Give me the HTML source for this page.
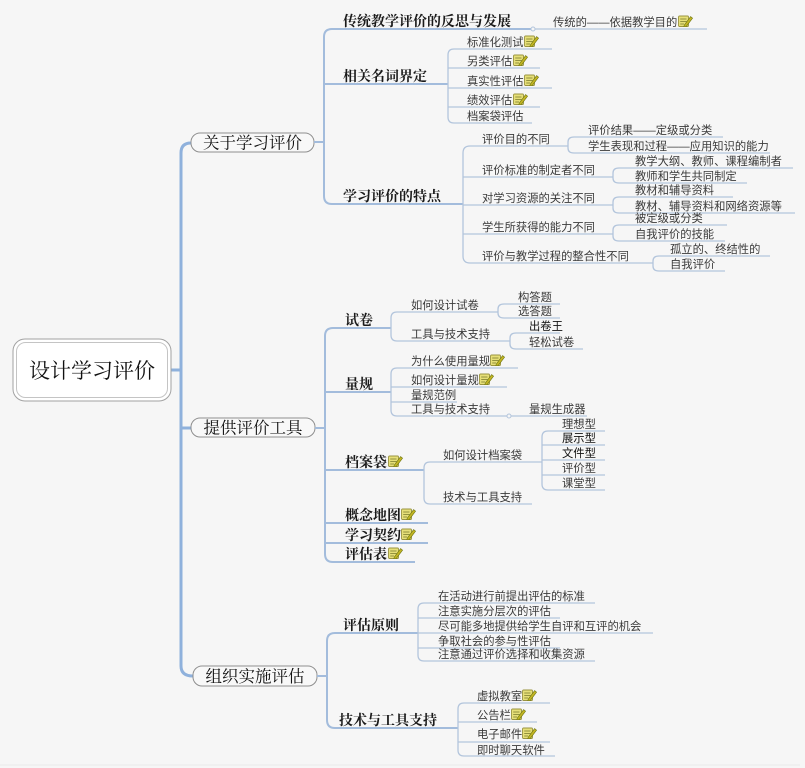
<!DOCTYPE html>
<html>
<head>
<meta charset="utf-8">
<style>
  html,body{margin:0;padding:0;background:#f6f6f6;}
  svg{display:block;}
  .c0{font-family:"Liberation Serif","Noto Serif CJK SC",serif;font-size:21px;fill:#111;}
  .c1{font-family:"Liberation Serif","Noto Serif CJK SC",serif;font-size:16.5px;fill:#111;}
  .c2{font-family:"Liberation Serif","Noto Serif CJK SC",serif;font-size:14px;font-weight:bold;fill:#1a1a1a;}
  .c3{font-family:"Liberation Sans","Noto Sans CJK SC",sans-serif;font-size:11.3px;fill:#3a3a3a;}
  .dk{fill:#111;}
  .tr{fill:none;stroke:#8fb1dc;stroke-width:3;stroke-linecap:round;}
  .gb{fill:none;stroke:#a3bcdc;stroke-width:2;}
  .lf{fill:none;stroke:#b3c5dc;stroke-width:1.3;}
</style>
</head>
<body>
<svg width="805" height="768" viewBox="0 0 805 768" xmlns="http://www.w3.org/2000/svg">
  <defs>
    <symbol id="ic" viewBox="0 0 15 12">
      <rect x="0.5" y="1" width="10" height="10.5" rx="1" fill="#e6df78" stroke="#9a9440" stroke-width="0.9"/>
      <line x1="2.2" y1="4" x2="8.5" y2="4" stroke="#8a8a38" stroke-width="0.9"/>
      <line x1="2.2" y1="6.5" x2="8.5" y2="6.5" stroke="#8a8a38" stroke-width="0.9"/>
      <line x1="2.2" y1="9" x2="6" y2="9" stroke="#8a8a38" stroke-width="0.9"/>
      <path d="M6.2 10.2 L12.6 1.6 L14.6 3.2 L8.2 11.6 L5.8 12 Z" fill="#c2b423" stroke="#6d7612" stroke-width="0.6"/>
    </symbol>
  </defs>

  <rect x="0" y="0" width="805" height="768" fill="#f6f6f6"/>
  <line x1="0" y1="765" x2="800" y2="765" stroke="#e9e9e9" stroke-width="1"/>

  <!-- trunk -->
  <path class="tr" d="M171 370 L181 370 M191 143 Q181 143 181 153 L181 666 Q181 676 193 676 M181 428 L191 428"/>

  <!-- central node -->
  <rect x="13" y="339" width="158" height="62" rx="12" fill="#ffffff" stroke="#a2a2a2" stroke-width="1"/>
  <rect x="16.5" y="342.5" width="151" height="55" rx="9" fill="#ffffff" stroke="#c4c4c4" stroke-width="1"/>
  <text class="c0" x="92" y="378" text-anchor="middle">设计学习评价</text>

  <!-- L1 nodes -->
  <rect x="191" y="133" width="123" height="19" rx="9" fill="#f8f8f8" stroke="#8f8f8f" stroke-width="1"/>
  <text class="c1" x="252.5" y="148.5" text-anchor="middle">关于学习评价</text>
  <rect x="191" y="418" width="124" height="19" rx="9" fill="#f8f8f8" stroke="#8f8f8f" stroke-width="1"/>
  <text class="c1" x="253" y="433.5" text-anchor="middle">提供评价工具</text>
  <rect x="193" y="666" width="124" height="20" rx="9" fill="#f8f8f8" stroke="#8f8f8f" stroke-width="1"/>
  <text class="c1" x="255" y="682" text-anchor="middle">组织实施评估</text>

  <!-- ===== Group 1 ===== -->
  <path class="gb" d="M314 142 L324 142 M332 29 Q324 29 324 37 L324 196 Q324 204 332 204 M332 29 L533 29 M324 84 L448 84 M332 204 L463 204"/>
  <circle cx="533" cy="29" r="2" fill="#f6f6f6" stroke="#b3c5dc" stroke-width="1"/>
  <path class="lf" d="M535 29 L707 29"/>
  <text class="c2" x="343" y="26">传统教学评价的反思与发展</text>
  <text class="c3" x="553" y="26">传统的——依据教学目的</text>
  <use href="#ic" x="678" y="15" width="15" height="12"/>

  <text class="c2" x="343" y="81">相关名词界定</text>
  <path class="lf" d="M454 49 Q448 49 448 55 L448 117 Q448 123 454 123 M454 49 L552 49 M448 68 L540 68 M448 88 L552 88 M448 107 L540 107 M454 123 L532 123"/>
  <text class="c3" x="467" y="46">标准化测试</text><use href="#ic" x="524" y="35" width="15" height="12"/>
  <text class="c3" x="467" y="65">另类评估</text><use href="#ic" x="513" y="54" width="15" height="12"/>
  <text class="c3" x="467" y="85">真实性评估</text><use href="#ic" x="524" y="74" width="15" height="12"/>
  <text class="c3" x="467" y="104">绩效评估</text><use href="#ic" x="513" y="93" width="15" height="12"/>
  <text class="c3" x="467" y="120">档案袋评估</text>

  <text class="c2" x="343" y="201">学习评价的特点</text>
  <path class="lf" d="M470 146 Q463 146 463 153 L463 256 Q463 263 470 263
    M470 146 L568 146 M463 177 L613 177 M463 205 L613 205 M463 234 L613 234 M470 263 L653 263
    M574 137 Q568 137 568 142 L568 148 Q568 153 574 153 M574 137 L723 137 M574 153 L770 153
    M619 168 Q613 168 613 173 L613 178 Q613 183 619 183 M619 168 L793 168 M619 183 L747 183
    M619 197 Q613 197 613 202 L613 208 Q613 213 619 213 M619 197 L733 197 M619 213 L795 213
    M619 225 Q613 225 613 230 L613 236 Q613 241 619 241 M619 225 L727 225 M619 241 L725 241
    M659 256 Q653 256 653 261 L653 266 Q653 271 659 271 M659 256 L770 256 M659 271 L725 271"/>
  <text class="c3" x="482" y="143">评价目的不同</text>
  <text class="c3" x="588" y="134">评价结果——定级或分类</text>
  <text class="c3" x="588" y="150">学生表现和过程——应用知识的能力</text>
  <text class="c3" x="482" y="174">评价标准的制定者不同</text>
  <text class="c3" x="635" y="165">教学大纲、教师、课程编制者</text>
  <text class="c3" x="635" y="180">教师和学生共同制定</text>
  <text class="c3" x="482" y="202">对学习资源的关注不同</text>
  <text class="c3" x="635" y="194">教材和辅导资料</text>
  <text class="c3" x="635" y="210">教材、辅导资料和网络资源等</text>
  <text class="c3" x="482" y="231">学生所获得的能力不同</text>
  <text class="c3" x="635" y="222">被定级或分类</text>
  <text class="c3" x="635" y="238">自我评价的技能</text>
  <text class="c3" x="482" y="260">评价与教学过程的整合性不同</text>
  <text class="c3" x="670" y="253">孤立的、终结性的</text>
  <text class="c3" x="670" y="268">自我评价</text>

  <!-- ===== Group 2 ===== -->
  <path class="gb" d="M315 428 L325 428 M333 328 Q325 328 325 336 L325 554 Q325 562 333 562
    M333 328 L391 328 M325 392 L391 392 M325 470 L424 470 M325 523 L428 523 M325 543 L428 543 M333 562 L415 562"/>
  <text class="c2" x="345" y="325">试卷</text>
  <path class="lf" d="M397 312 Q391 312 391 318 L391 335 Q391 341 397 341 M397 312 L498 312 M397 341 L510 341
    M504 304 Q498 304 498 309 L498 313 Q498 318 504 318 M504 304 L560 304 M504 318 L560 318
    M516 333 Q510 333 510 338 L510 344 Q510 349 516 349 M516 333 L560 333 M516 349 L583 349"/>
  <text class="c3" x="411" y="309">如何设计试卷</text>
  <text class="c3" x="518" y="301">构答题</text>
  <text class="c3" x="518" y="315">选答题</text>
  <text class="c3" x="411" y="338">工具与技术支持</text>
  <text class="c3 dk" x="529" y="330">出卷王</text>
  <text class="c3" x="529" y="346">轻松试卷</text>

  <text class="c2" x="345" y="389">量规</text>
  <path class="lf" d="M397 368 Q391 368 391 374 L391 410 Q391 416 397 416 M397 368 L518 368 M391 387 L507 387 M391 402 L457 402 M397 416 L587 416"/>
  <circle cx="509" cy="416" r="2" fill="#f6f6f6" stroke="#b3c5dc" stroke-width="1"/>
  <text class="c3" x="411" y="365">为什么使用量规</text><use href="#ic" x="490" y="354" width="15" height="12"/>
  <text class="c3" x="411" y="384">如何设计量规</text><use href="#ic" x="479" y="373" width="15" height="12"/>
  <text class="c3" x="411" y="399">量规范例</text>
  <text class="c3" x="411" y="413">工具与技术支持</text>
  <text class="c3" x="529" y="413">量规生成器</text>

  <text class="c2" x="345" y="467">档案袋</text><use href="#ic" x="388" y="455" width="15" height="12"/>
  <path class="lf" d="M430 462 Q424 462 424 468 L424 498 Q424 504 430 504 M430 462 L542 462 M430 504 L532 504
    M548 431 Q542 431 542 437 L542 484 Q542 490 548 490 M548 431 L605 431 M542 445 L605 445 M542 460 L605 460 M542 475 L605 475 M548 490 L605 490"/>
  <text class="c3" x="443" y="459">如何设计档案袋</text>
  <text class="c3" x="562" y="428">理想型</text>
  <text class="c3 dk" x="562" y="442">展示型</text>
  <text class="c3 dk" x="562" y="457">文件型</text>
  <text class="c3" x="562" y="472">评价型</text>
  <text class="c3" x="562" y="487">课堂型</text>
  <text class="c3" x="443" y="501">技术与工具支持</text>

  <text class="c2" x="345" y="520">概念地图</text><use href="#ic" x="401" y="508" width="15" height="12"/>
  <text class="c2" x="345" y="540">学习契约</text><use href="#ic" x="401" y="528" width="15" height="12"/>
  <text class="c2" x="345" y="559">评估表</text><use href="#ic" x="388" y="547" width="15" height="12"/>

  <!-- ===== Group 3 ===== -->
  <path class="gb" d="M317 676 L327 676 M335 633 Q327 633 327 641 L327 720 Q327 728 335 728 M335 633 L418 633 M335 728 L458 728"/>
  <text class="c2" x="343" y="630">评估原则</text>
  <path class="lf" d="M424 603 Q418 603 418 609 L418 655 Q418 661 424 661 M424 603 L595 603 M418 618 L560 618 M418 633 L653 633 M418 648 L560 648 M424 661 L595 661"/>
  <text class="c3" x="438" y="600">在活动进行前提出评估的标准</text>
  <text class="c3" x="438" y="615">注意实施分层次的评估</text>
  <text class="c3" x="438" y="630">尽可能多地提供给学生自评和互评的机会</text>
  <text class="c3" x="438" y="645">争取社会的参与性评估</text>
  <text class="c3" x="438" y="658">注意通过评价选择和收集资源</text>

  <text class="c2" x="339" y="725">技术与工具支持</text>
  <path class="lf" d="M464 703 Q458 703 458 709 L458 750 Q458 756 464 756 M464 703 L550 703 M458 722 L537 722 M458 742 L550 742 M464 756 L555 756"/>
  <text class="c3" x="477" y="700">虚拟教室</text><use href="#ic" x="522" y="689" width="15" height="12"/>
  <text class="c3" x="477" y="719">公告栏</text><use href="#ic" x="511" y="708" width="15" height="12"/>
  <text class="c3" x="477" y="738">电子邮件</text><use href="#ic" x="522" y="727" width="15" height="12"/>
  <text class="c3" x="477" y="754">即时聊天软件</text>
</svg>
</body>
</html>
